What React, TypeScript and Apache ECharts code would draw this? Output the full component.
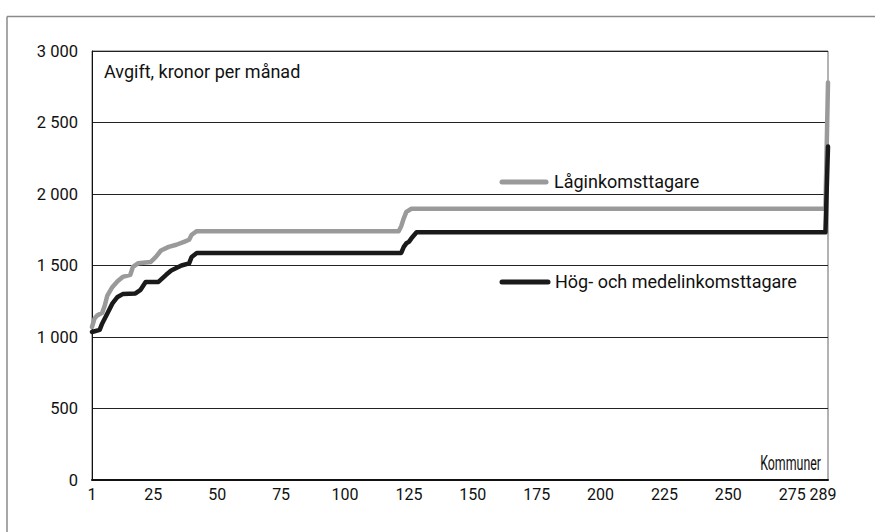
import React, { useEffect, useRef } from "react";
import * as echarts from "echarts";

// Municipality rank (x) and monthly fee (kronor) at the breakpoints of each sorted curve
const lowIncomeRank = [1, 2, 3, 5, 6, 7, 9, 11, 13, 16, 17, 19, 24, 26, 28, 31, 34, 37, 39, 40, 42, 121, 122, 123, 124, 126, 288, 289];
const lowIncomeFee = [1070, 1130, 1150, 1170, 1220, 1290, 1350, 1390, 1420, 1435, 1490, 1515, 1525, 1560, 1605, 1630, 1645, 1665, 1680, 1715, 1740, 1740, 1775, 1830, 1875, 1897, 1897, 2780];

const highIncomeRank = [1, 4, 5, 7, 9, 11, 13, 18, 20, 22, 27, 30, 32, 36, 39, 40, 42, 122, 123, 124, 125, 126, 128, 288, 289];
const highIncomeFee = [1035, 1050, 1095, 1165, 1235, 1280, 1300, 1305, 1330, 1385, 1385, 1435, 1465, 1500, 1515, 1560, 1588, 1588, 1630, 1655, 1665, 1690, 1732, 1732, 2332];

const xTickValues = [1, 25, 50, 75, 100, 125, 150, 175, 200, 225, 250, 275, 289];

const seriesNames = ["Låginkomsttagare", "Hög- och medelinkomsttagare"];
const yAxisTitle = "Avgift, kronor per månad";
const xAxisTitle = "Kommuner";

const REG = "Roboto, 'Noto Sans', sans-serif";

export default function App() {
  const ref = useRef<HTMLDivElement>(null);
  useEffect(() => {
    if (!ref.current) return;
    const chart = echarts.init(ref.current, undefined, { renderer: "svg" });
    const lowData = lowIncomeRank.map((k, i) => [k, lowIncomeFee[i]]);
    const highData = highIncomeRank.map((k, i) => [k, highIncomeFee[i]]);
    const lastTick = xTickValues[xTickValues.length - 1];
    chart.setOption({
      animation: false,
      backgroundColor: "#ffffff",
      grid: {
        left: 92,
        right: 47,
        top: 51,
        bottom: 52,
        show: true,
        borderColor: "#666",
        borderWidth: 1,
        backgroundColor: "transparent",
      },
      xAxis: {
        type: "value",
        min: 1,
        max: 289,
        axisLine: { show: true, onZero: false, lineStyle: { color: "#111", width: 2 } },
        axisTick: { show: false },
        splitLine: { show: false },
        axisLabel: {
          customValues: xTickValues,
          showMaxLabel: true,
          showMinLabel: true,
          color: "#111",
          fontFamily: REG,
          fontSize: 16,
          margin: 6,
          formatter: (v: number) => (v === lastTick ? `{r|${v}}` : String(v)),
          rich: {
            r: { color: "#111", fontFamily: REG, fontSize: 16, padding: [0, 10, 0, 0] },
          },
        },
      },
      yAxis: {
        type: "value",
        min: 0,
        max: 3000,
        interval: 500,
        axisLine: { show: true, lineStyle: { color: "#111", width: 1 } },
        axisTick: { show: false },
        splitLine: { show: true, lineStyle: { color: "#222", width: 1 } },
        axisLabel: {
          color: "#111",
          fontFamily: REG,
          fontSize: 16.5,
          margin: 14,
          formatter: (v: number) => String(v).replace(/\B(?=(\d{3})+(?!\d))/g, " "),
        },
      },
      series: [
        {
          name: seriesNames[0],
          type: "line",
          data: lowData,
          symbol: "none",
          lineStyle: { color: "#9a9a9a", width: 4.5, cap: "round", join: "round" },
          z: 2,
        },
        {
          name: seriesNames[1],
          type: "line",
          data: highData,
          symbol: "none",
          lineStyle: { color: "#1a1a1a", width: 4.5, cap: "round", join: "round" },
          z: 3,
        },
      ],
      graphic: [
        {
          type: "line",
          shape: { x1: 7, y1: 16.5, x2: 875, y2: 16.5 },
          style: { stroke: "#8a8a8a", lineWidth: 1.5 },
          silent: true,
        },
        {
          type: "line",
          shape: { x1: 7, y1: 16.5, x2: 7, y2: 532 },
          style: { stroke: "#8a8a8a", lineWidth: 1.5 },
          silent: true,
        },
        {
          type: "text",
          x: 104,
          y: 71,
          style: { text: yAxisTitle, fill: "#111", font: `18px ${REG}`, textVerticalAlign: "middle" },
        },
        {
          type: "text",
          x: 821,
          y: 463,
          scaleX: 0.62,
          scaleY: 1,
          style: { text: xAxisTitle, fill: "#111", fontSize: 20, fontFamily: REG, textAlign: "right", textVerticalAlign: "middle" },
        },
        {
          type: "line",
          shape: { x1: 502, y1: 182, x2: 546, y2: 182 },
          style: { stroke: "#9a9a9a", lineWidth: 5, lineCap: "round" },
        },
        {
          type: "text",
          x: 554,
          y: 181,
          style: { text: seriesNames[0], fill: "#111", font: `18px ${REG}`, textVerticalAlign: "middle" },
        },
        {
          type: "line",
          shape: { x1: 502, y1: 282, x2: 548, y2: 282 },
          style: { stroke: "#1a1a1a", lineWidth: 5, lineCap: "round" },
        },
        {
          type: "text",
          x: 555,
          y: 281,
          style: { text: seriesNames[1], fill: "#111", font: `18px ${REG}`, textVerticalAlign: "middle" },
        },
      ],
    });
    return () => chart.dispose();
  }, []);
  return <div ref={ref} style={{ position: "fixed", left: 0, top: 0, width: 875, height: 532 }} />;
}
